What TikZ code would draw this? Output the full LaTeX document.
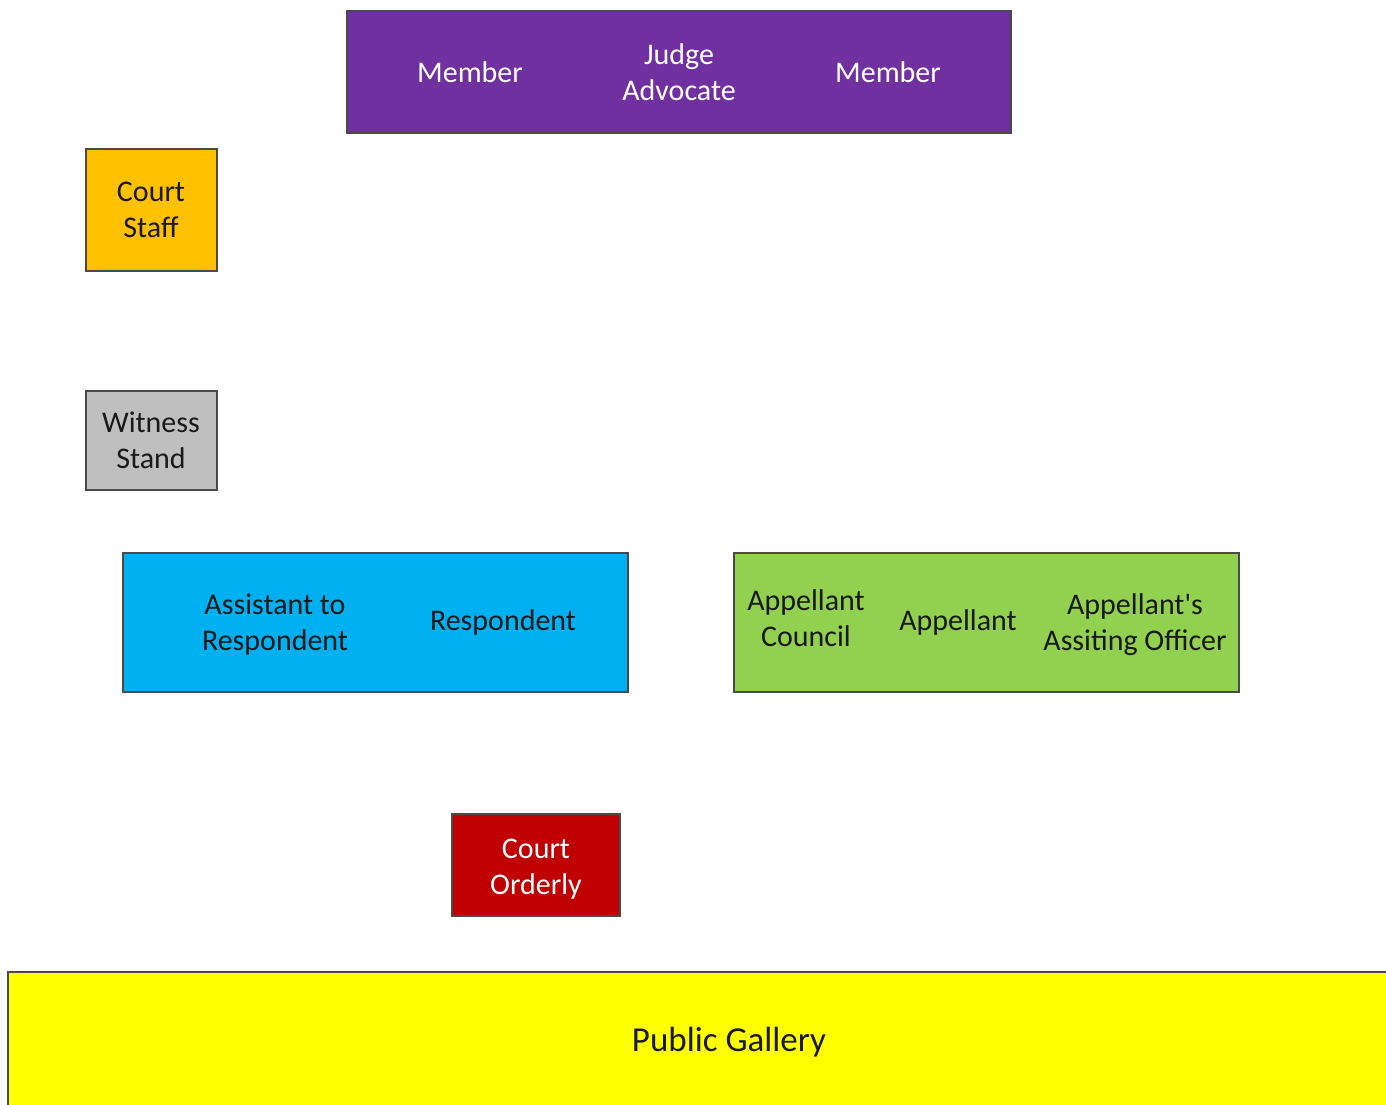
\documentclass[tikz,border=0pt]{standalone}
\usepackage{fontspec}
\setmainfont{Carlito}
\definecolor{cpurple}{HTML}{7030A0}
\definecolor{corange}{HTML}{FFC000}
\definecolor{cgray}{HTML}{BFBFBF}
\definecolor{cblue}{HTML}{00B0F0}
\definecolor{cgreen}{HTML}{92D050}
\definecolor{cred}{HTML}{C00000}
\definecolor{cyellow}{HTML}{FFFF00}
\definecolor{cborder}{HTML}{4A4A4A}
\begin{document}
\begin{tikzpicture}[x=1pt,y=-1pt,
  zone/.style={draw=cborder,line width=1.5pt},
  lbl/.style={align=center,font=\fontsize{30}{36}\selectfont,inner sep=0pt},
  wlbl/.style={lbl,text=white},
  klbl/.style={lbl,text=black!90}]
\useasboundingbox (0,0) rectangle (1386,1105);
\clip (0,0) rectangle (1386,1105);
% boxes
\draw[zone,fill=cpurple] (347,11) rectangle (1011,133);
\draw[zone,fill=corange] (86,149) rectangle (217,271);
\draw[zone,fill=cgray] (86,391) rectangle (217,490);
\draw[zone,fill=cblue] (123,553) rectangle (628,692);
\draw[zone,fill=cgreen] (734,553) rectangle (1239,692);
\draw[zone,fill=cred] (452,814) rectangle (620,916);
\draw[zone,fill=cyellow] (8,972) rectangle (1400,1120);
% labels
\node[wlbl] (m1) at (470,72) {Member};
\node[wlbl] (ja) at (679,72) {Judge\\Advocate};
\node[wlbl] (m2) at (888,72) {Member};
\node[klbl] (cs) at (151,210) {Court\\Staff};
\node[klbl] (ws) at (151,440) {Witness\\Stand};
\node[klbl] (ar) at (275,625) {Assistant to\\Respondent};
\node[klbl] (resp) at (503,622) {Respondent};
\node[klbl] (ac) at (806,618) {Appellant\\Council};
\node[klbl] (app) at (958,622) {Appellant};
\node[klbl] (aao) at (1135,625) {Appellant\textquotesingle s\\Assiting Officer};
\node[wlbl] (co) at (536,869) {Court\\Orderly};
\node[klbl,font=\fontsize{35}{42}\selectfont] (pg) at (729,1042) {Public Gallery};
\end{tikzpicture}
\end{document}
